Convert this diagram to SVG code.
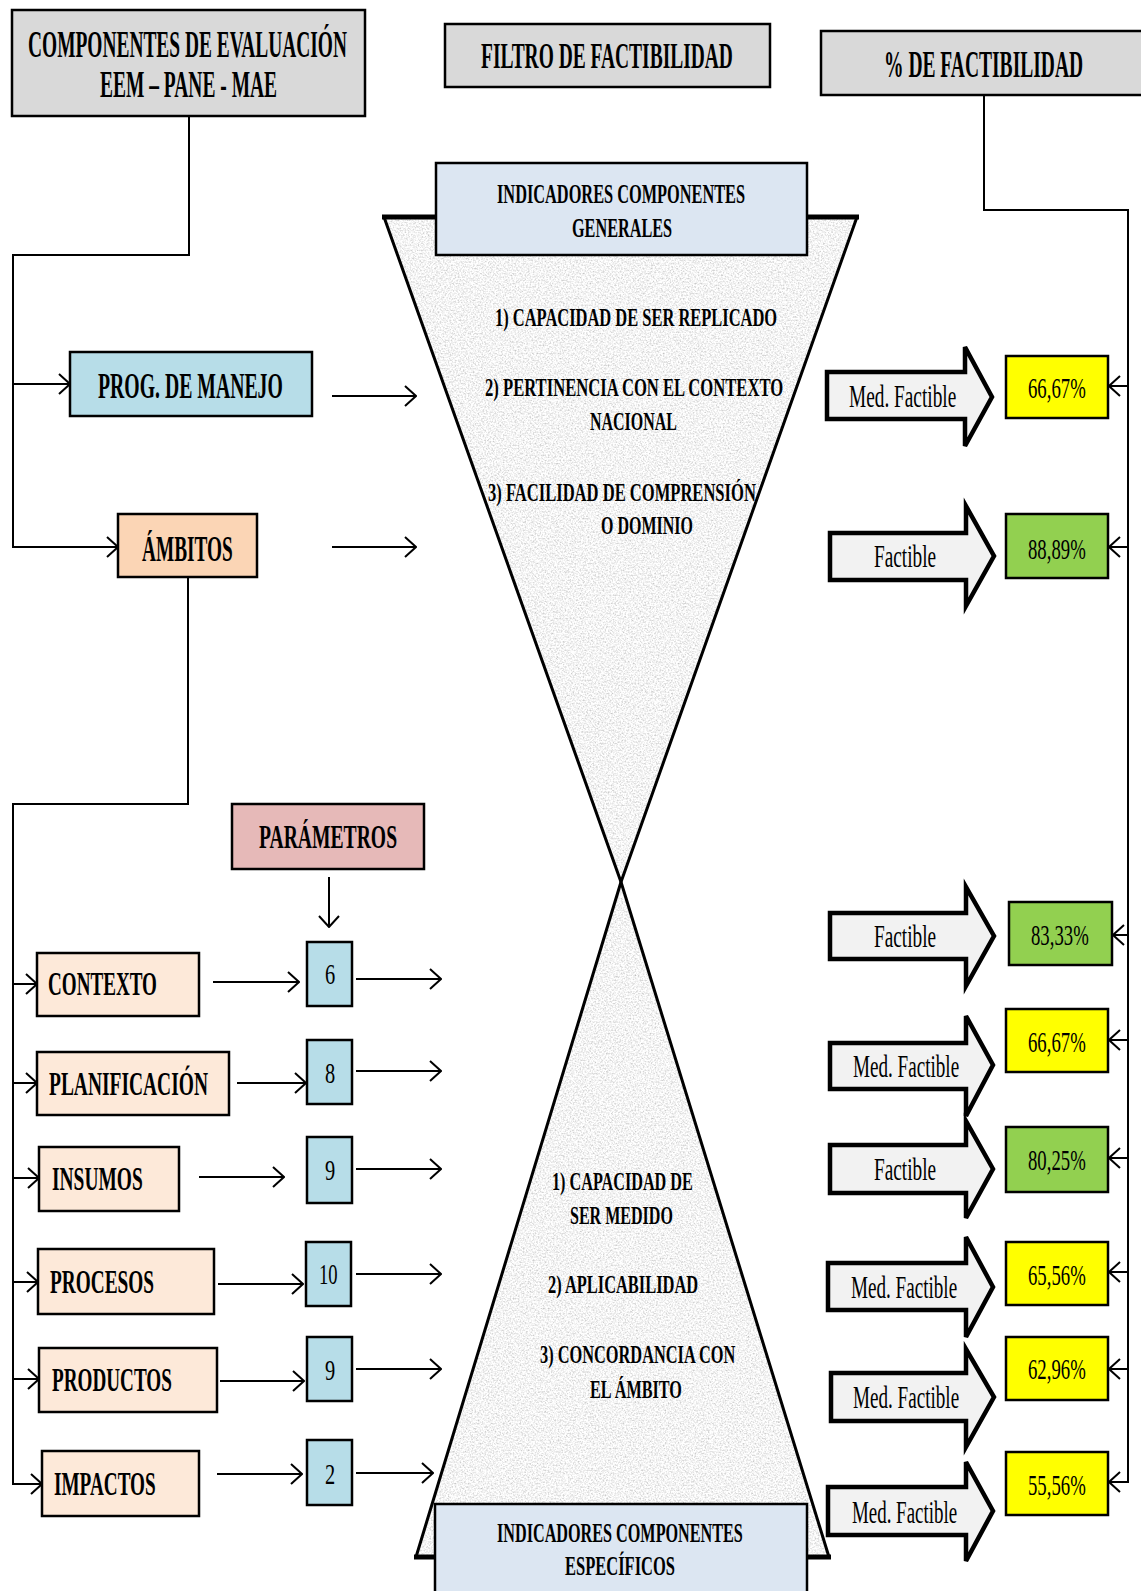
<svg xmlns="http://www.w3.org/2000/svg" width="1141" height="1591" viewBox="0 0 1141 1591">
<style>
.t{font-family:'Liberation Serif','Times New Roman',serif;font-weight:bold;fill:#000}
.r{font-weight:normal}
.bx{stroke:#000;stroke-width:2.5}
.ln{fill:none;stroke:#000;stroke-width:2}
.ar{fill:none;stroke:#000;stroke-width:2;marker-end:url(#ah)}
.blk{fill:#f2f2f2;stroke:#000;stroke-width:4.5;stroke-linejoin:miter}
.gray{fill:#d9d9d9}
.lblue{fill:#b7dde8}
.peach{fill:#fde9d9}
.ind{fill:#dce6f2}
.yel{fill:#ffff00}
.grn{fill:#92d050}
</style>
<defs>
<marker id="ah" markerUnits="userSpaceOnUse" viewBox="0 0 14 24" markerWidth="14" markerHeight="24" refX="13" refY="12" orient="auto">
<path d="M2,2 L13,12 L2,22" fill="none" stroke="#000" stroke-width="2"/>
</marker>
<filter id="granite" x="0" y="0" width="1" height="1">
<feTurbulence type="fractalNoise" baseFrequency="0.6" numOctaves="3" seed="7" result="noise"/>
<feColorMatrix in="noise" type="matrix" values="0.85 0 0 0 0.48  0.85 0 0 0 0.48  0.85 0 0 0 0.48  0 0 0 0 1" result="g"/>
<feComposite in="g" in2="SourceGraphic" operator="in"/>
</filter>
</defs>
<rect width="1141" height="1591" fill="#fff"/>

<g id="funnel">
<polygon points="384,217 857,217 621,882" fill="#e3e3e3" filter="url(#granite)"/>
<polygon points="621,882 829,1557 416,1557" fill="#e3e3e3" filter="url(#granite)"/>
<polygon points="384,217 857,217 621,882" fill="none" stroke="#000" stroke-width="3"/>
<polygon points="621,882 829,1557 416,1557" fill="none" stroke="#000" stroke-width="3"/>
<line x1="382" y1="217" x2="859" y2="217" stroke="#000" stroke-width="5"/>
<line x1="414" y1="1557" x2="831" y2="1557" stroke="#000" stroke-width="5"/>
<text class="t" font-size="25" transform="matrix(0.55 0 0 1 495 326)" textLength="513" lengthAdjust="spacingAndGlyphs">1) CAPACIDAD DE SER REPLICADO</text>
<text class="t" font-size="25" transform="matrix(0.55 0 0 1 485 396)" textLength="542" lengthAdjust="spacingAndGlyphs">2) PERTINENCIA CON EL  CONTEXTO</text>
<text class="t" font-size="25" transform="matrix(0.55 0 0 1 590 430)" textLength="158" lengthAdjust="spacingAndGlyphs">NACIONAL</text>
<text class="t" font-size="25" transform="matrix(0.55 0 0 1 488 501)" textLength="487" lengthAdjust="spacingAndGlyphs">3) FACILIDAD DE COMPRENSIÓN</text>
<text class="t" font-size="25" transform="matrix(0.55 0 0 1 601 534)" textLength="167" lengthAdjust="spacingAndGlyphs">O DOMINIO</text>
<text class="t" font-size="25" transform="matrix(0.55 0 0 1 552 1190)" textLength="256" lengthAdjust="spacingAndGlyphs">1) CAPACIDAD DE</text>
<text class="t" font-size="25" transform="matrix(0.55 0 0 1 570 1224)" textLength="187" lengthAdjust="spacingAndGlyphs">SER MEDIDO</text>
<text class="t" font-size="25" transform="matrix(0.55 0 0 1 548 1293)" textLength="273" lengthAdjust="spacingAndGlyphs">2) APLICABILIDAD</text>
<text class="t" font-size="25" transform="matrix(0.55 0 0 1 540 1363)" textLength="355" lengthAdjust="spacingAndGlyphs">3) CONCORDANCIA  CON</text>
<text class="t" font-size="25" transform="matrix(0.55 0 0 1 590 1398)" textLength="167" lengthAdjust="spacingAndGlyphs">EL ÁMBITO</text>
</g>

<g id="connectors">
<path class="ln" d="M189,116 V255 H13 V384"/>
<path class="ar" d="M13,384 H70"/>
<path class="ar" d="M13,384 V547 H118"/>
<path class="ar" d="M332,396 H416"/>
<path class="ar" d="M332,547 H416"/>
<path class="ln" d="M188,577 V804 H13 V984"/>
<path class="ar" d="M13,984 H37"/>
<path class="ar" d="M13,984 V1083 H37"/>
<path class="ar" d="M13,1083 V1178 H39"/>
<path class="ar" d="M13,1178 V1282 H38"/>
<path class="ar" d="M13,1282 V1379 H39"/>
<path class="ar" d="M13,1379 V1484 H42"/>
<path class="ar" d="M329,877 V927"/>
<path class="ar" d="M213,982 H299"/>
<path class="ar" d="M237,1083 H306"/>
<path class="ar" d="M199,1177 H284"/>
<path class="ar" d="M218,1284 H303"/>
<path class="ar" d="M220,1381 H304"/>
<path class="ar" d="M217,1474 H302"/>
<path class="ar" d="M356,979 H441"/>
<path class="ar" d="M356,1071 H441"/>
<path class="ar" d="M356,1169 H441"/>
<path class="ar" d="M356,1274 H441"/>
<path class="ar" d="M356,1369 H441"/>
<path class="ar" d="M356,1473 H433"/>
<path class="ln" d="M984,95 V210 H1128 V386"/>
<path class="ar" d="M1128,386 H1109"/>
<path class="ar" d="M1128,386 V547 H1109"/>
<path class="ar" d="M1128,547 V935 H1113"/>
<path class="ar" d="M1128,935 V1040 H1109"/>
<path class="ar" d="M1128,1040 V1158 H1109"/>
<path class="ar" d="M1128,1158 V1272 H1109"/>
<path class="ar" d="M1128,1272 V1369 H1109"/>
<path class="ar" d="M1128,1369 V1482 H1109"/>
</g>

<g id="componentes">
<rect class="bx gray" x="12" y="10" width="353" height="106"/>
<text class="t" font-size="37" transform="matrix(0.55 0 0 1 28 57)" textLength="580" lengthAdjust="spacingAndGlyphs">COMPONENTES DE EVALUACIÓN</text>
<text class="t" font-size="37" transform="matrix(0.55 0 0 1 100 97)" textLength="322" lengthAdjust="spacingAndGlyphs">EEM – PANE - MAE</text>
</g>
<g id="filtro">
<rect class="bx gray" x="445" y="24" width="325" height="63"/>
<text class="t" font-size="36" transform="matrix(0.55 0 0 1 481 68)" textLength="458" lengthAdjust="spacingAndGlyphs">FILTRO DE FACTIBILIDAD</text>
</g>
<g id="porcentaje">
<rect class="bx gray" x="821" y="31" width="330" height="64"/>
<text class="t" font-size="37" transform="matrix(0.55 0 0 1 884 77)" textLength="362" lengthAdjust="spacingAndGlyphs">% DE FACTIBILIDAD</text>
</g>
<g id="ind-generales">
<rect class="bx ind" x="436" y="163" width="371" height="92"/>
<text class="t" font-size="27" transform="matrix(0.55 0 0 1 497 203)" textLength="451" lengthAdjust="spacingAndGlyphs">INDICADORES COMPONENTES</text>
<text class="t" font-size="27" transform="matrix(0.55 0 0 1 572 237)" textLength="182" lengthAdjust="spacingAndGlyphs">GENERALES</text>
</g>
<g id="ind-especificos">
<rect class="bx ind" x="435" y="1504" width="372" height="100"/>
<text class="t" font-size="27" transform="matrix(0.55 0 0 1 497 1542)" textLength="447" lengthAdjust="spacingAndGlyphs">INDICADORES COMPONENTES</text>
<text class="t" font-size="27" transform="matrix(0.55 0 0 1 565 1575)" textLength="200" lengthAdjust="spacingAndGlyphs">ESPECÍFICOS</text>
</g>
<g id="prog">
<rect class="bx lblue" x="70" y="352" width="242" height="64"/>
<text class="t" font-size="35" transform="matrix(0.55 0 0 1 98 398)" textLength="336" lengthAdjust="spacingAndGlyphs">PROG. DE MANEJO</text>
</g>
<g id="ambitos">
<rect class="bx" fill="#fbd5b5" x="118" y="514" width="139" height="63"/>
<text class="t" font-size="35" transform="matrix(0.55 0 0 1 142 561)" textLength="165" lengthAdjust="spacingAndGlyphs">ÁMBITOS</text>
</g>
<g id="parametros">
<rect class="bx" fill="#e6b9b8" x="232" y="804" width="192" height="65"/>
<text class="t" font-size="33" transform="matrix(0.55 0 0 1 259 848)" textLength="251" lengthAdjust="spacingAndGlyphs">PARÁMETROS</text>
</g>

<g id="contexto">
<rect class="bx peach" x="37" y="953" width="162" height="63"/>
<text class="t" font-size="34" transform="matrix(0.55 0 0 1 48 995)" textLength="198" lengthAdjust="spacingAndGlyphs">CONTEXTO</text>
</g>
<g id="planificacion">
<rect class="bx peach" x="37" y="1052" width="192" height="63"/>
<text class="t" font-size="34" transform="matrix(0.55 0 0 1 49 1095)" textLength="289" lengthAdjust="spacingAndGlyphs">PLANIFICACIÓN</text>
</g>
<g id="insumos">
<rect class="bx peach" x="39" y="1147" width="140" height="64"/>
<text class="t" font-size="34" transform="matrix(0.55 0 0 1 52 1190)" textLength="165" lengthAdjust="spacingAndGlyphs">INSUMOS</text>
</g>
<g id="procesos">
<rect class="bx peach" x="38" y="1249" width="176" height="65"/>
<text class="t" font-size="34" transform="matrix(0.55 0 0 1 50 1293)" textLength="189" lengthAdjust="spacingAndGlyphs">PROCESOS</text>
</g>
<g id="productos">
<rect class="bx peach" x="39" y="1348" width="178" height="64"/>
<text class="t" font-size="34" transform="matrix(0.55 0 0 1 52 1391)" textLength="218" lengthAdjust="spacingAndGlyphs">PRODUCTOS</text>
</g>
<g id="impactos">
<rect class="bx peach" x="42" y="1451" width="157" height="65"/>
<text class="t" font-size="34" transform="matrix(0.55 0 0 1 54 1495)" textLength="185" lengthAdjust="spacingAndGlyphs">IMPACTOS</text>
</g>

<g id="n-contexto"><rect class="bx lblue" x="307" y="942" width="45" height="64"/><text class="t r" font-size="29" transform="matrix(0.6 0 0 1 325 984)" textLength="17" lengthAdjust="spacingAndGlyphs">6</text></g>
<g id="n-planificacion"><rect class="bx lblue" x="307" y="1040" width="45" height="64"/><text class="t r" font-size="29" transform="matrix(0.6 0 0 1 325 1083)" textLength="17" lengthAdjust="spacingAndGlyphs">8</text></g>
<g id="n-insumos"><rect class="bx lblue" x="307" y="1137" width="45" height="66"/><text class="t r" font-size="29" transform="matrix(0.6 0 0 1 325 1180)" textLength="17" lengthAdjust="spacingAndGlyphs">9</text></g>
<g id="n-procesos"><rect class="bx lblue" x="306" y="1242" width="45" height="64"/><text class="t r" font-size="29" transform="matrix(0.6 0 0 1 319 1284)" textLength="31" lengthAdjust="spacingAndGlyphs">10</text></g>
<g id="n-productos"><rect class="bx lblue" x="307" y="1337" width="45" height="64"/><text class="t r" font-size="29" transform="matrix(0.6 0 0 1 325 1380)" textLength="17" lengthAdjust="spacingAndGlyphs">9</text></g>
<g id="n-impactos"><rect class="bx lblue" x="307" y="1440" width="45" height="65"/><text class="t r" font-size="29" transform="matrix(0.6 0 0 1 325 1484)" textLength="17" lengthAdjust="spacingAndGlyphs">2</text></g>

<g id="a1"><path class="blk" d="M827,372 H965 V347 L992,397 L965,446 V419 H827 Z"/><text class="t r" font-size="32" transform="matrix(0.55 0 0 1 849 407)" textLength="195" lengthAdjust="spacingAndGlyphs">Med. Factible</text></g>
<g id="a2"><path class="blk" d="M830,533 H966 V506 L994,556 L966,606 V580 H830 Z"/><text class="t r" font-size="32" transform="matrix(0.55 0 0 1 874 567)" textLength="113" lengthAdjust="spacingAndGlyphs">Factible</text></g>
<g id="a3"><path class="blk" d="M830,913 H966 V887 L994,936 L966,986 V959 H830 Z"/><text class="t r" font-size="32" transform="matrix(0.55 0 0 1 874 947)" textLength="113" lengthAdjust="spacingAndGlyphs">Factible</text></g>
<g id="a4"><path class="blk" d="M830,1043 H966 V1016 L993,1065 L966,1116 V1089 H830 Z"/><text class="t r" font-size="32" transform="matrix(0.55 0 0 1 853 1077)" textLength="193" lengthAdjust="spacingAndGlyphs">Med. Factible</text></g>
<g id="a5"><path class="blk" d="M830,1145 H966 V1121 L993,1169 L966,1218 V1193 H830 Z"/><text class="t r" font-size="32" transform="matrix(0.55 0 0 1 874 1180)" textLength="113" lengthAdjust="spacingAndGlyphs">Factible</text></g>
<g id="a6"><path class="blk" d="M828,1263 H966 V1237 L993,1287 L966,1337 V1310 H828 Z"/><text class="t r" font-size="32" transform="matrix(0.55 0 0 1 851 1298)" textLength="193" lengthAdjust="spacingAndGlyphs">Med. Factible</text></g>
<g id="a7"><path class="blk" d="M831,1373 H966 V1349 L994,1397 L966,1447 V1421 H831 Z"/><text class="t r" font-size="32" transform="matrix(0.55 0 0 1 853 1408)" textLength="193" lengthAdjust="spacingAndGlyphs">Med. Factible</text></g>
<g id="a8"><path class="blk" d="M828,1487 H966 V1462 L993,1511 L966,1561 V1535 H828 Z"/><text class="t r" font-size="32" transform="matrix(0.55 0 0 1 852 1523)" textLength="191" lengthAdjust="spacingAndGlyphs">Med. Factible</text></g>

<g id="p1"><rect class="bx yel" x="1006" y="356" width="102" height="62"/><text class="t r" font-size="30" transform="matrix(0.55 0 0 1 1028 398)" textLength="105" lengthAdjust="spacingAndGlyphs">66,67%</text></g>
<g id="p2"><rect class="bx grn" x="1006" y="514" width="102" height="64"/><text class="t r" font-size="30" transform="matrix(0.55 0 0 1 1028 559)" textLength="105" lengthAdjust="spacingAndGlyphs">88,89%</text></g>
<g id="p3"><rect class="bx grn" x="1009" y="902" width="103" height="63"/><text class="t r" font-size="30" transform="matrix(0.55 0 0 1 1031 945)" textLength="105" lengthAdjust="spacingAndGlyphs">83,33%</text></g>
<g id="p4"><rect class="bx yel" x="1006" y="1009" width="102" height="63"/><text class="t r" font-size="30" transform="matrix(0.55 0 0 1 1028 1052)" textLength="105" lengthAdjust="spacingAndGlyphs">66,67%</text></g>
<g id="p5"><rect class="bx grn" x="1006" y="1127" width="102" height="65"/><text class="t r" font-size="30" transform="matrix(0.55 0 0 1 1028 1170)" textLength="105" lengthAdjust="spacingAndGlyphs">80,25%</text></g>
<g id="p6"><rect class="bx yel" x="1006" y="1242" width="102" height="63"/><text class="t r" font-size="30" transform="matrix(0.55 0 0 1 1028 1285)" textLength="105" lengthAdjust="spacingAndGlyphs">65,56%</text></g>
<g id="p7"><rect class="bx yel" x="1006" y="1337" width="102" height="63"/><text class="t r" font-size="30" transform="matrix(0.55 0 0 1 1028 1379)" textLength="105" lengthAdjust="spacingAndGlyphs">62,96%</text></g>
<g id="p8"><rect class="bx yel" x="1006" y="1452" width="102" height="63"/><text class="t r" font-size="30" transform="matrix(0.55 0 0 1 1028 1495)" textLength="105" lengthAdjust="spacingAndGlyphs">55,56%</text></g>
</svg>
